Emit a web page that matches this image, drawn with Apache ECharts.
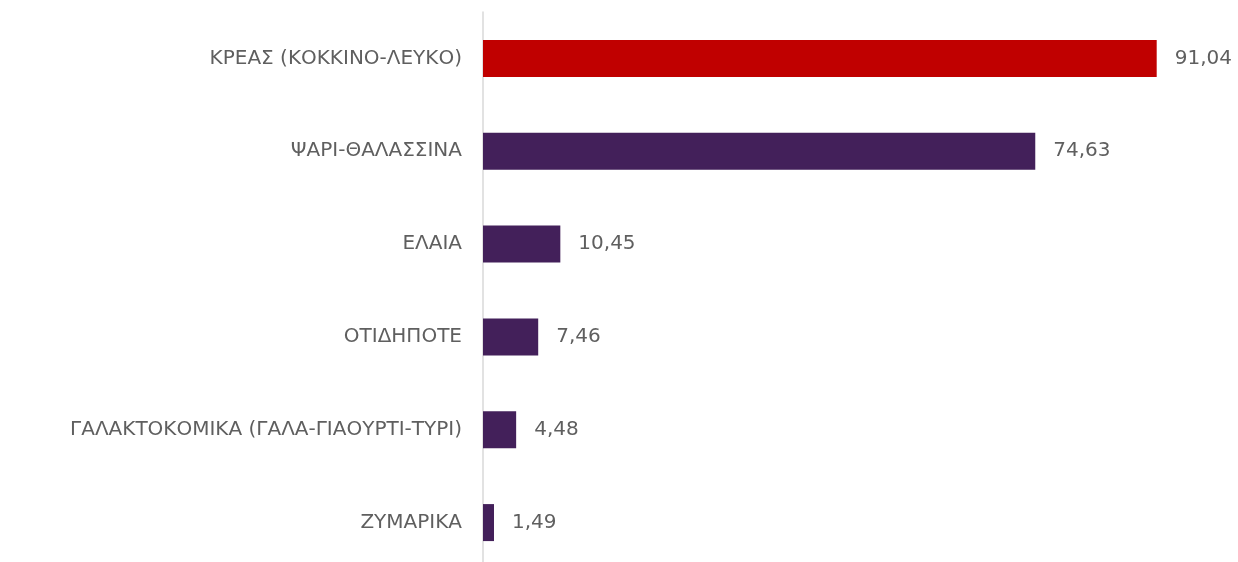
<!DOCTYPE html>
<html>
<head>
<meta charset="utf-8">
<script src="https://cdn.jsdelivr.net/npm/echarts@6/dist/echarts.min.js"></script>
<style>
  html, body { margin: 0; padding: 0; background: #fff; }
  #chart { width: 1238px; height: 562px; }
</style>
</head>
<body>
<div id="chart"></div>
<script>
const categories = [
  'ΚΡΕΑΣ (ΚΟΚΚΙΝΟ-ΛΕΥΚΟ)',
  'ΨΑΡΙ-ΘΑΛΑΣΣΙΝΑ',
  'ΕΛΑΙΑ',
  'ΟΤΙΔΗΠΟΤΕ',
  'ΓΑΛΑΚΤΟΚΟΜΙΚΑ (ΓΑΛΑ-ΓΙΑΟΥΡΤΙ-ΤΥΡΙ)',
  'ΖΥΜΑΡΙΚΑ'
];
const values = [91.04, 74.63, 10.45, 7.46, 4.48, 1.49];
const barColors = ['#C00000', '#43205A', '#43205A', '#43205A', '#43205A', '#43205A'];

const fontFamily = 'DejaVu Sans, sans-serif';

const myChart = echarts.init(document.getElementById('chart'));
myChart.setOption({
  animation: false,
  grid: {
    left: 483,
    top: 12,
    width: 740,
    height: 557,
    outerBoundsMode: 'none',
    containLabel: false
  },
  xAxis: {
    type: 'value',
    min: 0,
    max: 100,
    show: false
  },
  yAxis: {
    type: 'category',
    inverse: true,
    data: categories,
    axisLine: { show: true, lineStyle: { color: '#D9D9D9', width: 1.5 } },
    axisTick: { show: false },
    axisLabel: {
      margin: 21,
      color: '#5F5F5F',
      fontSize: 20,
      fontFamily: fontFamily
    }
  },
  series: [{
    type: 'bar',
    barWidth: 37,
    data: values.map((v, i) => ({ value: v, itemStyle: { color: barColors[i] } })),
    label: {
      show: true,
      position: 'right',
      distance: 18,
      color: '#5F5F5F',
      fontSize: 20,
      fontFamily: fontFamily,
      formatter: (p) => p.value.toFixed(2).replace('.', ',')
    }
  }]
});
</script>
</body>
</html>
